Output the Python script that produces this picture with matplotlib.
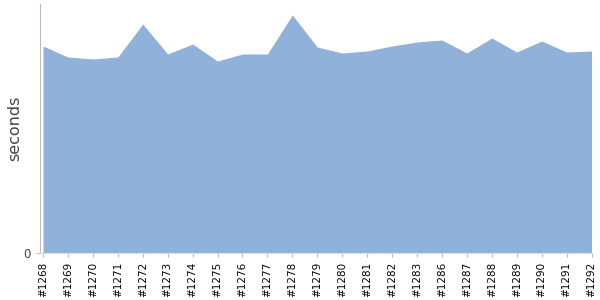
import matplotlib
matplotlib.use("Agg")
import matplotlib.pyplot as plt

builds = ["#1268", "#1269", "#1270", "#1271", "#1272", "#1273", "#1274", "#1275",
          "#1276", "#1277", "#1278", "#1279", "#1280", "#1281", "#1282", "#1283",
          "#1286", "#1287", "#1288", "#1289", "#1290", "#1291", "#1292"]
seconds = [2.07, 1.96, 1.94, 1.96, 2.29, 1.99, 2.09, 1.92, 1.99, 1.99, 2.38, 2.06,
           2.00, 2.02, 2.07, 2.11, 2.13, 2.00, 2.15, 2.01, 2.12, 2.01, 2.02]

fig = plt.figure(figsize=(6, 3), dpi=100)
ax = fig.add_axes([40 / 600, 47 / 300, 552 / 600, 249 / 300])

x = list(range(len(builds)))
ax.fill_between(x, 0, seconds, color="#8fb1da", linewidth=0)

ax.set_xlim(-0.12, len(builds) - 1 + 0.02)
ax.set_ylim(0, 2.49)
ax.set_xticks(x)
ax.set_xticklabels(builds, rotation=90, fontsize=7.5)
ax.set_yticks([0])
ax.set_yticklabels(["0"], fontsize=8.5, color="#444444")
ax.set_ylabel("seconds", fontsize=11.5, color="#444444", labelpad=1)

for side in ["top", "right"]:
    ax.spines[side].set_visible(False)
ax.spines["left"].set_color("#bbbbbb")
ax.spines["bottom"].set_color("#dddddd")
ax.tick_params(axis="both", colors="#bbbbbb", length=3, width=0.8)
for lab in ax.get_xticklabels():
    lab.set_color("black")
for lab in ax.get_yticklabels():
    lab.set_color("#444444")

fig.savefig("out.png", dpi=100)
